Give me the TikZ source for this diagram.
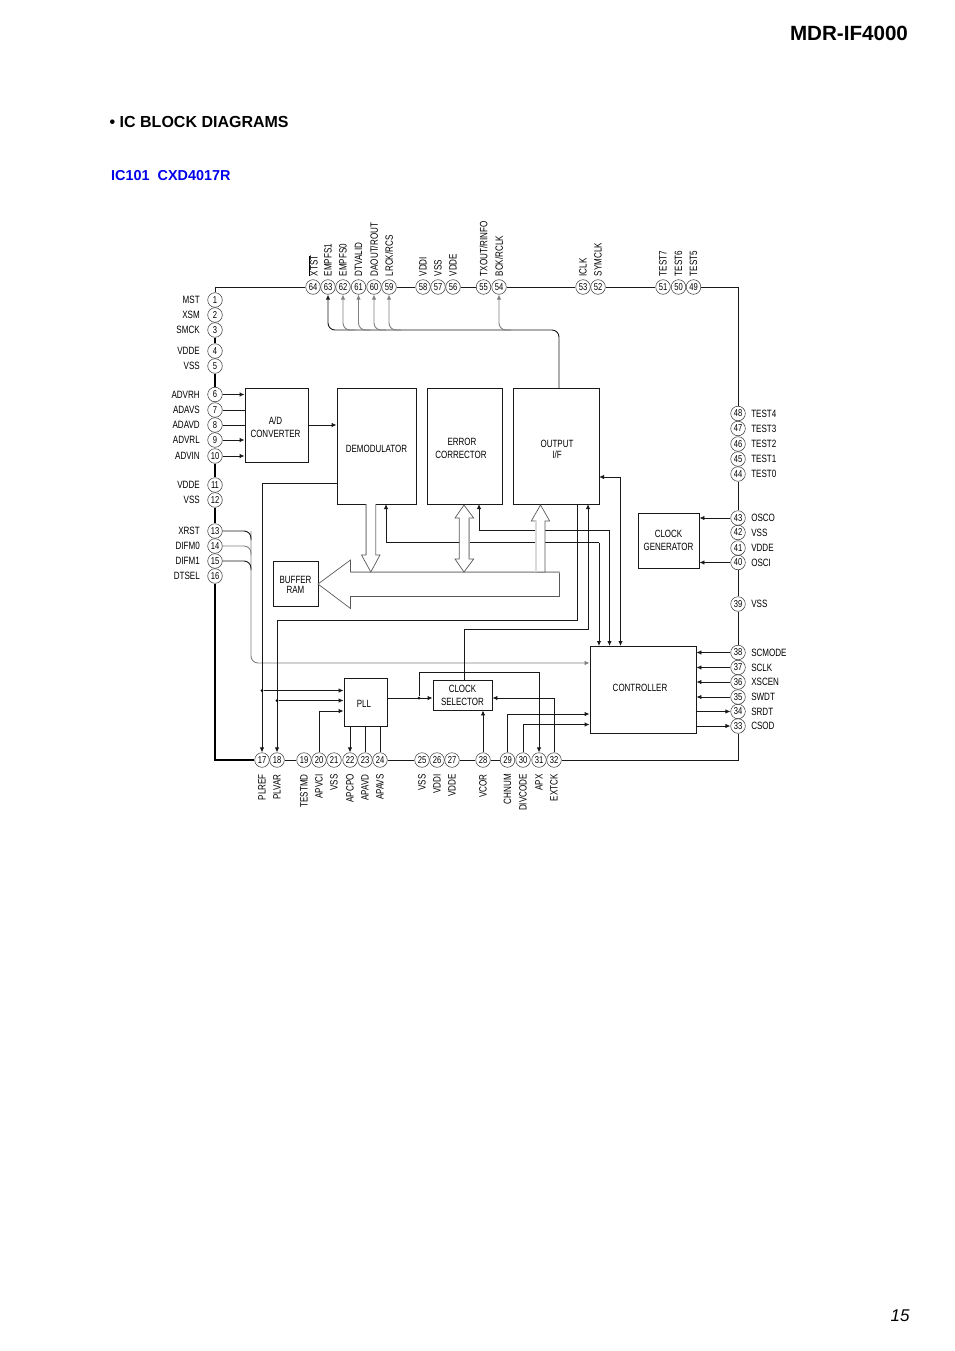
\documentclass[tikz,border=0pt]{standalone}
\usepackage{fontspec}
\setmainfont{Liberation Sans}
\newfontfamily\schemfont[FakeStretch=0.76]{Liberation Sans}
\usetikzlibrary{arrows.meta}
\newcommand{\dropline}{\rule{0pt}{13.5pt}}
\tikzset{
	wire/.style={line width=0.9pt, color=black!90},
	softwire/.style={line width=0.9pt, color=black!50},
	heavywire/.style={line width=2pt, color=black},
	tip/.style={-{Latex[length=5pt,width=4.5pt]}},
	bothtips/.style={{Latex[length=5pt,width=4.5pt]}-{Latex[length=5pt,width=4.5pt]}},
	busedge/.style={line width=0.7pt, color=black!65, fill=white, line join=miter},
	palebus/.style={line width=0.8pt, color=black!35},
	blockbox/.style={draw=black!90, line width=0.9pt, inner sep=0pt, align=center, font=\schemfont\fontsize{10.5}{13}\selectfont},
	pinnode/.style={circle, draw=black!80, line width=0.5pt, inner sep=0pt, minimum size=14.6pt, font=\schemfont\fontsize{10}{10}\selectfont},
	pinlabel/.style={inner sep=0pt, font=\schemfont\fontsize{10.6}{11}\selectfont},
	pinleft/.style={pinnode, label={[pinlabel, xshift=-7.5pt]left:#1}},
	pinright/.style={pinnode, label={[pinlabel, xshift=5.5pt]right:#1}},
	pintop/.style={pinnode, label={[pinlabel, rotate=90, anchor=west, xshift=3pt]above:#1}},
	pinbottom/.style={pinnode, label={[pinlabel, rotate=90, anchor=east, xshift=-6.5pt]below:#1}},
	dotnode/.style={circle, fill=black, inner sep=0pt, minimum size=3pt}
}

\begin{document}
\begin{tikzpicture}[x=1pt, y=-1pt]
	%%%%% PAGE %%%%%
	\useasboundingbox (0, 0) rectangle (954, 1351);
	
	\node[font=\bfseries\fontsize{20.6}{22}\selectfont] (model) at (849, 33) {MDR-IF4000};
	\node[anchor=west, inner sep=0pt, font=\bfseries\fontsize{16}{18}\selectfont] (heading) at (109.5, 121.5) {• IC BLOCK DIAGRAMS};
	\node[anchor=west, inner sep=0pt, text=blue!92!black, font=\bfseries\fontsize{14.4}{16}\selectfont] (chipname) at (111, 176) {IC101\ \ CXD4017R};
	\node[font=\itshape\fontsize{17}{18}\selectfont] (pagenum) at (900, 1316) {15};
	
	%%%%% BLOCKS %%%%%
	\node[blockbox, minimum width=63pt, minimum height=74pt] (adconv) at (276.5, 425) {\rule{0pt}{11.5pt}\kern-2pt A/D\\\kern-2pt CONVERTER};
	\node[blockbox, minimum width=79pt, minimum height=116pt] (demod) at (376.5, 446) {\dropline DEMODULATOR};
	\node[blockbox, minimum width=75pt, minimum height=116pt] (errcor) at (464.5, 446) {\rule{0pt}{12pt}\kern-5pt ERROR\\\kern-7pt CORRECTOR};
	\node[blockbox, minimum width=86pt, minimum height=116pt] (outif) at (556, 446) {\dropline\kern2pt OUTPUT\\[-2pt]\kern2pt I/F};
	\node[blockbox, minimum width=61pt, minimum height=55pt] (clkgen) at (668.5, 540.5) {CLOCK\\GENERATOR};
	\node[blockbox, minimum width=106pt, minimum height=87pt] (ctrl) at (643, 689.5) {\kern-6pt CONTROLLER\rule[-3pt]{0pt}{3pt}};
	\node[blockbox, minimum width=45pt, minimum height=45pt] (bufram) at (295.5, 583.5) {\rule{0pt}{10pt}BUFFER\\[-3pt]RAM};
	\node[blockbox, minimum width=43pt, minimum height=48pt] (pll) at (365.5, 702) {\rule{0pt}{10pt}\kern-3pt PLL};
	\node[blockbox, minimum width=59pt, minimum height=30pt] (clksel) at (462.5, 695) {CLOCK\\SELECTOR};
	
	%%%%% PINS %%%%%
	\node[pinleft=MST] (p1) at (215, 300) {1};
	\node[pinleft=XSM] (p2) at (215, 315) {2};
	\node[pinleft=SMCK] (p3) at (215, 330) {3};
	\node[pinleft=VDDE] (p4) at (215, 351) {4};
	\node[pinleft=VSS] (p5) at (215, 366) {5};
	\node[pinleft=ADVRH] (p6) at (215, 394.5) {6};
	\node[pinleft=ADAVS] (p7) at (215, 410) {7};
	\node[pinleft=ADAVD] (p8) at (215, 425) {8};
	\node[pinleft=ADVRL] (p9) at (215, 440) {9};
	\node[pinleft=ADVIN] (p10) at (215, 456) {10};
	\node[pinleft=VDDE] (p11) at (215, 485) {11};
	\node[pinleft=VSS] (p12) at (215, 500) {12};
	\node[pinleft=XRST] (p13) at (215, 531) {13};
	\node[pinleft=DIFM0] (p14) at (215, 546) {14};
	\node[pinleft=DIFM1] (p15) at (215, 561) {15};
	\node[pinleft=DTSEL] (p16) at (215, 576) {16};
	
	\node[pinbottom=PLREF] (p17) at (262, 760) {17};
	\node[pinbottom=PLVAR] (p18) at (277, 760) {18};
	\node[pinbottom=TESTMD] (p19) at (304, 760) {19};
	\node[pinbottom=APVCI] (p20) at (319, 760) {20};
	\node[pinbottom=VSS] (p21) at (334, 760) {21};
	\node[pinbottom=APCPO] (p22) at (350, 760) {22};
	\node[pinbottom=APAVD] (p23) at (365, 760) {23};
	\node[pinbottom=APAVS] (p24) at (380, 760) {24};
	\node[pinbottom=VSS] (p25) at (422, 760) {25};
	\node[pinbottom=VDDI] (p26) at (437, 760) {26};
	\node[pinbottom=VDDE] (p27) at (452, 760) {27};
	\node[pinbottom=VCOR] (p28) at (483, 760) {28};
	\node[pinbottom=CHNUM] (p29) at (507.5, 760) {29};
	\node[pinbottom=DIVCODE] (p30) at (523, 760) {30};
	\node[pinbottom=APX] (p31) at (539, 760) {31};
	\node[pinbottom=EXTCK] (p32) at (554, 760) {32};
	
	\node[pinright=CSOD] (p33) at (738, 726) {33};
	\node[pinright=SRDT] (p34) at (738, 711.5) {34};
	\node[pinright=SWDT] (p35) at (738, 697) {35};
	\node[pinright=XSCEN] (p36) at (738, 682) {36};
	\node[pinright=SCLK] (p37) at (738, 667.5) {37};
	\node[pinright=SCMODE] (p38) at (738, 652.5) {38};
	\node[pinright=VSS] (p39) at (738, 604) {39};
	\node[pinright=OSCI] (p40) at (738, 562.5) {40};
	\node[pinright=VDDE] (p41) at (738, 548) {41};
	\node[pinright=VSS] (p42) at (738, 532.5) {42};
	\node[pinright=OSCO] (p43) at (738, 518) {43};
	\node[pinright=TEST0] (p44) at (738, 474) {44};
	\node[pinright=TEST1] (p45) at (738, 459) {45};
	\node[pinright=TEST2] (p46) at (738, 444) {46};
	\node[pinright=TEST3] (p47) at (738, 428.5) {47};
	\node[pinright=TEST4] (p48) at (738, 413.5) {48};
	
	\node[pintop=TEST5] (p49) at (693.5, 287) {49};
	\node[pintop=TEST6] (p50) at (678.5, 287) {50};
	\node[pintop=TEST7] (p51) at (663, 287) {51};
	\node[pintop=SYMCLK] (p52) at (598, 287) {52};
	\node[pintop=ICLK] (p53) at (583, 287) {53};
	\node[pintop=BCK/RCLK] (p54) at (499, 287) {54};
	\node[pintop=TXOUT/RINFO] (p55) at (483.5, 287) {55};
	\node[pintop=VDDE] (p56) at (453, 287) {56};
	\node[pintop=VSS] (p57) at (438, 287) {57};
	\node[pintop=VDDI] (p58) at (423, 287) {58};
	\node[pintop=LRCK/RCS] (p59) at (389, 287) {59};
	\node[pintop=DAOUT/ROUT] (p60) at (374, 287) {60};
	\node[pintop=DTVALID] (p61) at (358.5, 287) {61};
	\node[pintop=EMPFS0] (p62) at (343, 287) {62};
	\node[pintop=EMPFS1] (p63) at (328, 287) {63};
	\node[pintop={$\overline{\hbox{XTST}}$}] (p64) at (313, 287) {64};
	
	%%%%% FRAME %%%%%
	\draw[wire] (p1.north) |- (p64.west);
	\draw[wire] (p59) -- (p58);
	\draw[wire] (p56) -- (p55);
	\draw[wire] (p54) -- (p53);
	\draw[wire] (p52) -- (p51);
	\draw[wire] (p49.east) -| (p48.north);
	\draw[wire] (p44) -- (p43);
	\draw[wire] (p40) -- (p39);
	\draw[wire] (p39) -- (p38);
	\draw[wire] (p33.south) |- (p32.east);
	\draw[wire] (p28) -- (p29);
	\draw[wire] (p27) -- (p28);
	\draw[wire] (p24) -- (p25);
	\draw[wire] (p18) -- (p19);
	\draw[heavywire] (p3) -- (p4);
	\draw[heavywire] (p5) -- (p6);
	\draw[heavywire] (p10) -- (p11);
	\draw[heavywire] (p12) -- (p13);
	\draw[heavywire] (p16.south) -- (p16 |- p17);
	\draw[line width=1.1pt] ([xshift=-1pt]p16 |- p17) -- (p17.west);
	
	%%%%% TOP BUS %%%%%
	\coordinate (busright) at (559, 388);
	\coordinate (buslevel) at (400, 330);
	\draw[wire, tip, rounded corners=7pt] (busright) |- (p63.south |- buslevel) -- (p63.south);
	\draw[softwire, tip, rounded corners=7pt] ([xshift=12pt]p62.south |- buslevel) -| (p62.south);
	\draw[softwire, tip, rounded corners=7pt] ([xshift=12pt]p61.south |- buslevel) -| (p61.south);
	\draw[softwire, tip, rounded corners=7pt] ([xshift=12pt]p60.south |- buslevel) -| (p60.south);
	\draw[softwire, tip, rounded corners=7pt] ([xshift=12pt]p59.south |- buslevel) -| (p59.south);
	\draw[softwire, tip, rounded corners=7pt] ([xshift=12pt]p54.south |- buslevel) -| (p54.south);
	
	%%%%% LEFT SIDE %%%%%
	\draw[wire, tip] (p6) -- (p6 -| adconv.west);
	\draw[wire] (p7) -- (p7 -| adconv.west);
	\draw[wire] (p8) -- (p8 -| adconv.west);
	\draw[wire, tip] (p9) -- (p9 -| adconv.west);
	\draw[wire, tip] (p10) -- (p10 -| adconv.west);
	\draw[wire, tip] (adconv) -- (adconv -| demod.west);
	
	\coordinate (resetbend) at (251, 663);
	\draw[softwire, tip, rounded corners=7pt] (p13 -| resetbend) -- (resetbend) -- (resetbend -| ctrl.west);
	\draw[wire, rounded corners=7pt] (p13.east) -| ([yshift=-9pt]p13.east -| resetbend);
	\draw[softwire, rounded corners=7pt] (p14.east) -| ([yshift=-9pt]p14.east -| resetbend);
	\draw[wire, rounded corners=7pt] (p15.east) -| ([yshift=-9pt]p15.east -| resetbend);
	
	%%%%% PLL %%%%%
	\coordinate (demodout) at (337, 483);
	\coordinate (outifdrop) at (577, 504);
	\coordinate (level18) at (400, 620);
	\draw[wire, tip] (demodout) -| (p17.north);
	\draw[wire, tip] (outifdrop) |- (p18.north |- level18) -- (p18.north);
	
	\node[dotnode] (jref) at (262, 690.5) {};
	\node[dotnode] (jvar) at (277, 700.5) {};
	\node[dotnode] (jsel) at (419, 698) {};
	\draw[wire, tip] (jref) -- (jref -| pll.west);
	\draw[wire, tip] (jvar) -- (jvar -| pll.west);
	\coordinate (vcilevel) at (330, 711);
	\draw[wire, tip] (p20.north) |- (vcilevel -| pll.west);
	\draw[wire, tip] (p22 |- pll.south) -- (p22.north);
	\draw[wire] (p23 |- pll.south) -- (p23.north);
	\draw[wire] (p24 |- pll.south) -- (p24.north);
	\draw[wire, tip] (jsel -| pll.east) -- (jsel -| clksel.west);
	\coordinate (level31) at (500, 672.5);
	\draw[wire, tip] (jsel) |- (p31.north |- level31) -- (p31.north);
	
	%%%%% CLOCK SELECTOR %%%%%
	\coordinate (outifup) at (588, 504);
	\coordinate (level29) at (540, 629);
	\coordinate (selin) at (464.5, 680);
	\draw[wire, tip] (selin) |- (level29 -| outifup) -- (outifup);
	\draw[wire, tip] (p28.north) -- (p28.north |- clksel.south);
	\draw[wire, tip] (p32.north) |- (jsel -| clksel.east);
	\coordinate (chnumlevel) at (550, 714);
	\coordinate (divlevel) at (550, 724.5);
	\draw[wire, tip] (p29.north) |- (chnumlevel -| ctrl.west);
	\draw[wire, tip] (p30.north) |- (divlevel -| ctrl.west);
	
	%%%%% CONTROLLER %%%%%
	\coordinate (demodin) at (386, 504);
	\coordinate (errin) at (479, 504);
	\coordinate (demodctl) at (599, 646);
	\coordinate (errctl) at (609.5, 646);
	\coordinate (outctl) at (620.5, 646);
	\coordinate (outifin) at (599, 477);
	\draw[wire, tip] (demodctl |- 0, 542.5) -- (demodctl);
	\draw[wire, tip] (demodctl |- 0, 542.5) -| (demodin);
	\draw[wire, tip] (errctl |- 0, 530) -- (errctl);
	\draw[wire, tip] (errctl |- 0, 530) -| (errin);
	\draw[wire, bothtips] (outifin) -| (outctl);
	
	\draw[wire, tip] (p43) -- (p43 -| clkgen.east);
	\draw[wire, tip] (p40) -- (p40 -| clkgen.east);
	\draw[wire, tip] (p38) -- (p38 -| ctrl.east);
	\draw[wire, tip] (p37) -- (p37 -| ctrl.east);
	\draw[wire, tip] (p36) -- (p36 -| ctrl.east);
	\draw[wire, tip] (p35) -- (p35 -| ctrl.east);
	\draw[wire, tip] (p34 -| ctrl.east) -- (p34);
	\draw[wire, tip] (p33 -| ctrl.east) -- (p33);
	
	%%%%% DATA BUS %%%%%
	\draw[busedge] (318, 584) -- (350.5, 560) -- (350.5, 572) -- (559.5, 572) -- (559.5, 596.5) -- (350.5, 596.5) -- (350.5, 608.5) -- cycle;
	\draw[palebus] (350.5, 572) -- (559.5, 572);
	
	\draw[busedge] (366, 504) -- (366, 555) -- (361.5, 555) -- (370.8, 572) -- (380, 555) -- (375.7, 555) -- (375.7, 504);
	\draw[palebus] (366, 504) -- (366, 555);
	\draw[palebus] (375.7, 504) -- (375.7, 555);
	
	\draw[busedge] (464, 505) -- (473.7, 518) -- (469, 518) -- (469, 559) -- (473.7, 559) -- (464, 572) -- (455, 559) -- (459.3, 559) -- (459.3, 518) -- (455, 518) -- cycle;
	\draw[palebus] (469, 518) -- (469, 559);
	
	\draw[busedge] (540.5, 505) -- (549.7, 521) -- (545, 521) -- (545, 572) -- (536, 572) -- (536, 521) -- (531.3, 521) -- cycle;
	\draw[line width=1.2pt, color=black!15] (536, 521) -- (536, 572);
\end{tikzpicture}
\end{document}
